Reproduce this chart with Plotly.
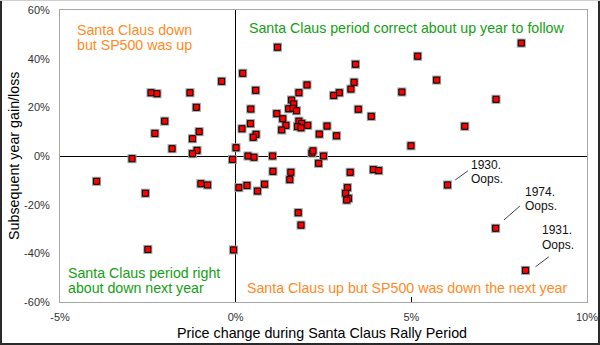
import plotly.graph_objects as go

# Price change during Santa Claus rally period (%)
santa_x = [-0.40, -2.41, -2.24, -1.30, -1.12, -2.02, -2.30, -1.04, -1.23, -1.81,
           -1.10, -1.23, 0.01, 0.18, -2.95, -0.09, -3.96, -0.99, -0.80, -2.57,
           -2.50, -0.06, 0.09, 1.19, 3.41, 0.20, 3.37, 2.03, 3.28, 0.57,
           1.80, 2.95, 2.79, 1.59, 1.65, 0.43, 1.51, 1.63, 1.73, 3.49,
           1.17, 3.86, 1.34, 1.80, 1.88, 1.43, 0.42, 1.76, 1.86, 2.05,
           2.60, 1.31, 0.58, 0.50, 2.38, 2.87, 0.35, 0.52, 1.05, 2.17,
           2.20, 2.50, 8.13, 5.18, 5.72, 4.73, 7.41, 6.52, 4.99, 2.36,
           1.06, 1.57, 3.26, 3.92, 4.07, 1.54, 0.32, 0.82, 0.62, 3.18,
           3.13, 3.21, 3.16, 1.78, 1.86, 6.03, 7.40, 8.25]
# Subsequent year gain/loss (%)
next_year_y = [30.7, 26.0, 25.6, 26.0, 20.0, 14.3, 9.3, 10.0, 7.1, 3.0,
               2.3, 0.95, 3.4, 11.2, -1.1, -1.4, -10.4, -11.4, -11.9, -15.3,
               -38.4, -38.6, -13.0, 44.7, 37.7, 34.0, 30.3, 29.2, 27.5, 27.0,
               26.0, 26.0, 24.9, 23.0, 21.4, 19.3, 19.4, 19.6, 18.6, 19.2,
               17.4, 16.3, 15.3, 14.3, 13.4, 12.6, 13.3, 12.1, 11.6, 12.6,
               12.3, 10.7, 8.9, 7.7, 9.0, 8.3, 0.0, -0.5, 0.0, 1.2,
               2.1, 0.0, 46.4, 41.0, 31.2, 26.3, 23.3, 12.2, 4.2, -3.0,
               -6.3, -6.7, -6.7, -5.6, -6.0, -9.7, -12.1, -11.6, -14.4, -13.0,
               -15.3, -17.4, -18.1, -23.3, -28.4, -11.9, -29.7, -47.0]

# Annotated years
oops_years = ["1930.", "1974.", "1931."]
oops_x = [6.03, 7.40, 8.25]
oops_y = [-11.9, -29.7, -47.0]

x_tick_vals = [-5, 0, 5, 10]
x_tick_text = ["-5%", "0%", "5%", "10%"]
y_tick_vals = [-60, -40, -20, 0, 20, 40, 60]
y_tick_text = ["-60%", "-40%", "-20%", "0%", "20%", "40%", "60%"]

x_title = "Price change during Santa Claus Rally Period"
y_title = "Subsequent year gain/loss"

FONT = "Arial, 'Liberation Sans', sans-serif"
ORANGE = "#FF8A1E"
GREEN = "#14A014"

fig = go.Figure()
# gray halo behind markers
fig.add_trace(go.Scatter(x=santa_x, y=next_year_y, mode="markers",
                         marker=dict(symbol="square", size=9, color="#9C9C9C"),
                         hoverinfo="skip", showlegend=False))
fig.add_trace(go.Scatter(x=santa_x, y=next_year_y, mode="markers",
                         marker=dict(symbol="square", size=6, color="#FF0000",
                                     line=dict(color="#000000", width=1)),
                         showlegend=False))

annotations = []
# quadrant labels
def lab(text, x, y, color):
    annotations.append(dict(text=text, x=x, y=y, xref="x", yref="y",
                            xanchor="left", yanchor="middle", showarrow=False,
                            font=dict(family=FONT, size=14.2, color=color)))

lab("Santa Claus down", -4.57, 51.9, ORANGE)
lab("but SP500 was up", -4.57, 45.5, ORANGE)
lab("Santa Claus period correct about up year to follow", 0.32, 52.7, GREEN)
lab("Santa Claus period right", -4.84, -47.9, GREEN)
lab("about down next year", -4.84, -54.3, GREEN)
lab("Santa Claus up but SP500 was down the next year", 0.27, -54.4, ORANGE)

# "Oops" labels: offsets in pixels relative to points
text_dx = [21, 27, 14]
line1_dy = [20, 36, 40]
line2_dy = [6, 22, 25]
lead = [(7.7, 5, 20.3, 14), (8.3, 8.3, 24.3, 22.3), (10, 3.6, 23.3, 13.6)]
shapes = []
for i, yr in enumerate(oops_years):
    for t, dy in ((yr, line1_dy[i]), ("Oops.", line2_dy[i])):
        annotations.append(dict(text=t, x=oops_x[i], y=oops_y[i], xref="x", yref="y",
                                xanchor="left", yanchor="middle", showarrow=False,
                                xshift=text_dx[i], yshift=dy,
                                font=dict(family=FONT, size=12, color="#111111")))
    x0, y0, x1, y1 = lead[i]
    shapes.append(dict(type="line", xref="x", yref="y", xsizemode="pixel",
                       ysizemode="pixel", xanchor=oops_x[i], yanchor=oops_y[i],
                       x0=x0, y0=y0, x1=x1, y1=y1,
                       line=dict(color="#444444", width=1)))

# outer frame (pixel -> paper conversion)
L, R, T, B, W, H = 60, 13, 10, 43, 600, 345
pw, ph = W - L - R, H - T - B
def px(v): return (v - L) / pw
def py(v): return (H - B - v) / ph

# axis titles as annotations for exact placement
annotations.append(dict(text=x_title, xref="paper", yref="paper", x=px(322), y=py(333),
                        xanchor="center", yanchor="middle", showarrow=False,
                        font=dict(family=FONT, size=14.3, color="#000000")))
annotations.append(dict(text=y_title, xref="paper", yref="paper", x=px(14), y=py(156),
                        xanchor="center", yanchor="middle", showarrow=False, textangle=-90,
                        font=dict(family=FONT, size=14.3, color="#000000")))

shapes.append(dict(type="line", xref="paper", yref="paper", x0=px(1), x1=px(1),
                   y0=py(1), y1=py(344), line=dict(color="#2a2a2a", width=2)))
shapes.append(dict(type="line", xref="paper", yref="paper", x0=px(599), x1=px(599),
                   y0=py(1), y1=py(344), line=dict(color="#2a2a2a", width=2)))
shapes.append(dict(type="line", xref="paper", yref="paper", x0=px(0), x1=px(600),
                   y0=py(344), y1=py(344), line=dict(color="#2a2a2a", width=2)))
shapes.append(dict(type="line", xref="paper", yref="paper", x0=px(0), x1=px(600),
                   y0=py(0.5), y1=py(0.5), line=dict(color="#CFCFCF", width=1)))

fig.update_layout(
    width=W, height=H, margin=dict(l=L, r=R, t=T, b=B, autoexpand=False),
    paper_bgcolor="white", plot_bgcolor="white",
    font=dict(family=FONT, size=11, color="#333333"),
    annotations=annotations, shapes=shapes,
    xaxis=dict(range=[-5, 10], tickvals=x_tick_vals, ticktext=x_tick_text,
               automargin=False,
               showgrid=False, zeroline=True, zerolinecolor="#000000", zerolinewidth=1,
               showline=True, linecolor="#A8A8A8", linewidth=1, mirror=True,
               ticks="inside", ticklen=5, tickcolor="#000000",
               tickfont=dict(family=FONT, size=11, color="#333333"),
               ticklabelstandoff=5),
    yaxis=dict(range=[-60, 60], tickvals=y_tick_vals, ticktext=y_tick_text,
               automargin=False,
               showgrid=False, zeroline=True, zerolinecolor="#000000", zerolinewidth=1,
               showline=True, linecolor="#A8A8A8", linewidth=1, mirror=True,
               ticks="", tickfont=dict(family=FONT, size=11, color="#333333"),
               ticklabelstandoff=7),
)

fig.write_html("out.html")
